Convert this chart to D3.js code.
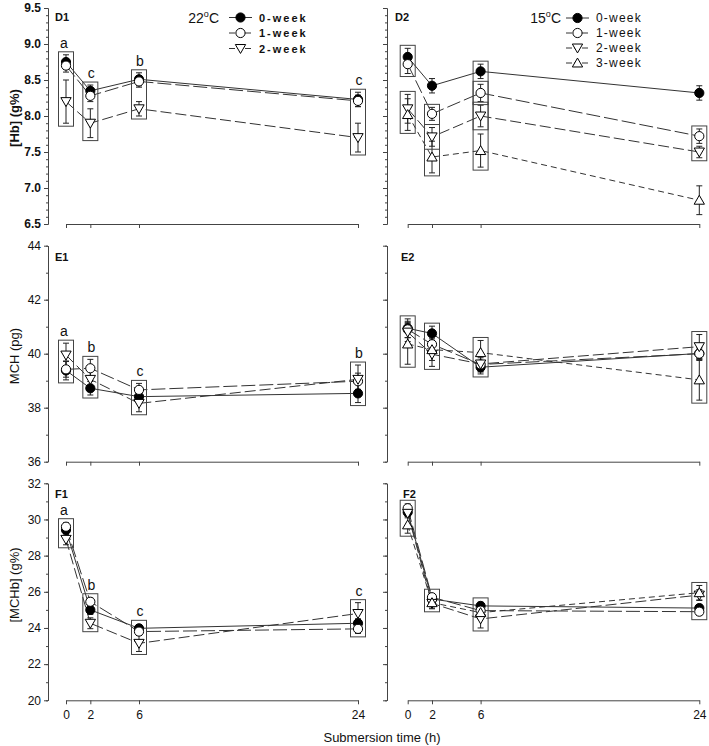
<!DOCTYPE html>
<html><head><meta charset="utf-8">
<script src="https://cdn.jsdelivr.net/npm/d3@7"></script>
<style>
body{margin:0;background:#fff}
svg{display:block}
text{font-family:"Liberation Sans",Arial,Helvetica,sans-serif;fill:#111}
</style>
</head><body>
<svg id="chart" width="709" height="746"></svg>
<script>
// ---------------- data ----------------
const times = [0, 2, 6, 24];
const timeTickLabels = ["0", "2", "6", "24"];
const seriesNames = ["0-week", "1-week", "2-week", "3-week"];
const temperatures = ["22", "15"];
const hbTicks = [6.5, 7.0, 7.5, 8.0, 8.5, 9.0, 9.5];
const mchTicks = [36, 38, 40, 42, 44];
const mchbTicks = [20, 22, 24, 26, 28, 30, 32];
const yTitles = ["[Hb] (g%)", "MCH (pg)", "[MCHb] (g%)"];
const xTitle = "Submersion time (h)";
const panelLabels = [["D1", "D2"], ["E1", "E2"], ["F1", "F2"]];

// 22 °C  (0-week, 1-week, 2-week)
const hb22 = [[8.75, 8.35, 8.51, 8.23], [8.70, 8.28, 8.48, 8.21], [8.20, 7.90, 8.10, 7.70]];
const hb22Err = [[0.10, 0.08, 0.09, 0.10], [0.09, 0.08, 0.08, 0.08], [0.30, 0.20, 0.10, 0.20]];
const mch22 = [[39.38, 38.72, 38.41, 38.53], [39.42, 39.46, 38.66, 38.98], [39.95, 39.05, 38.16, 39.05]];
const mch22Err = [[0.35, 0.25, 0.25, 0.34], [0.29, 0.33, 0.24, 0.30], [0.44, 0.40, 0.31, 0.53]];
const mchb22 = [[29.42, 25.00, 23.98, 24.26], [29.60, 25.45, 23.80, 23.95], [28.90, 24.26, 23.15, 24.80]];
const mchb22Err = [[0.20, 0.25, 0.20, 0.25], [0.22, 0.20, 0.20, 0.25], [0.30, 0.30, 0.45, 0.60]];

// 15 °C  (0-week, 1-week, 2-week, 3-week)
const hb15 = [[8.82, 8.42, 8.62, 8.32], [8.72, 8.03, 8.32, 7.72], [8.10, 7.71, 8.00, 7.50], [8.02, 7.43, 7.52, 6.83]];
const hb15Err = [[0.12, 0.10, 0.10, 0.10], [0.13, 0.09, 0.12, 0.10], [0.20, 0.13, 0.15, 0.08], [0.22, 0.22, 0.23, 0.20]];
const mch15 = [[40.94, 40.75, 39.50, 40.01], [40.90, 40.35, 39.60, 40.00], [40.80, 39.98, 39.62, 40.26], [40.36, 40.15, 40.04, 39.03]];
const mch15Err = [[0.35, 0.27, 0.25, 0.20], [0.30, 0.30, 0.25, 0.25], [0.35, 0.45, 0.30, 0.45], [0.75, 0.40, 0.45, 0.75]];
const mchb15 = [[30.40, 25.60, 25.22, 25.10], [30.62, 25.70, 24.96, 24.90], [30.34, 25.36, 24.50, 25.82], [29.70, 25.40, 24.85, 25.95]];
const mchb15Err = [[0.20, 0.20, 0.20, 0.20], [0.24, 0.20, 0.20, 0.20], [0.25, 0.30, 0.50, 0.30], [0.46, 0.30, 0.35, 0.40]];

// significance letters (22 °C panels)
const lettersHb22 = ["a", "c", "b", "c"];
const lettersMch22 = ["a", "b", "c", "b"];
const lettersMchb22 = ["a", "b", "c", "c"];

// boxed groups (series indices) at each time point
const groups22 = [[[0, 1, 2]], [[0, 1, 2]], [[0, 1, 2]], [[0, 1, 2]]];
const groupsHb15 = [[[0, 1], [2, 3]], [[1, 2], [2, 3]], [[0, 1], [1, 2], [2, 3]], [[1, 2]]];
const groups15 = [[[0, 1, 2, 3]], [[0, 1, 2, 3]], [[0, 1, 2, 3]], [[0, 1, 2, 3]]];

// ---------------- layout ----------------
const svg = d3.select("#chart");
const INK = "#222";
const cols = [
  { axisX: 48, range: [66, 358], labelX: [55, 55, 55] },
  { axisX: 387, range: [407.7, 699.3], labelX: [395, 401, 403] }
];
const rows = [
  { range: [224, 8], ticks: hbTicks, minorStep: 0.1, fmt: d3.format(".1f"), bold: true, labelY: 21, titleY: 118 },
  { range: [461.7, 245.7], ticks: mchTicks, minorStep: 1, fmt: d3.format("d"), bold: false, labelY: 261, titleY: 356 },
  { range: [700.3, 483.3], ticks: mchbTicks, minorStep: 1, fmt: d3.format("d"), bold: false, labelY: 498, titleY: 585 }
];
const dashes = [null, "14,4", "11,4", "6,4"];

const panels = [
  { row: 0, col: 0, vals: hb22, errs: hb22Err, groups: groups22, letters: lettersHb22 },
  { row: 0, col: 1, vals: hb15, errs: hb15Err, groups: groupsHb15, letters: null },
  { row: 1, col: 0, vals: mch22, errs: mch22Err, groups: groups22, letters: lettersMch22 },
  { row: 1, col: 1, vals: mch15, errs: mch15Err, groups: groups15, letters: null },
  { row: 2, col: 0, vals: mchb22, errs: mchb22Err, groups: groups22, letters: lettersMchb22 },
  { row: 2, col: 1, vals: mchb15, errs: mchb15Err, groups: groups15, letters: null }
];

function marker(sel, s, cx, cy) {
  if (s <= 1) {
    sel.append("circle").attr("cx", cx).attr("cy", cy).attr("r", 4.6)
      .attr("fill", s === 0 ? "#000" : "#fff").attr("stroke", "#000").attr("stroke-width", 1);
  } else {
    sel.append("path").attr("d", d3.symbol(d3.symbolTriangle, 46)())
      .attr("transform", `translate(${cx},${cy + (s === 2 ? -1 : 1)}) rotate(${s === 2 ? 180 : 0})`)
      .attr("fill", "#fff").attr("stroke", "#000").attr("stroke-width", 1);
  }
}

panels.forEach(p => {
  const R = rows[p.row], C = cols[p.col];
  const dom = [R.ticks[0], R.ticks[R.ticks.length - 1]];
  const x = d3.scaleLinear().domain([times[0], times[times.length - 1]]).range(C.range);
  const y = d3.scaleLinear().domain(dom).range(R.range);
  const g = svg.append("g");

  // y axis (minor then major)
  const minor = d3.range(dom[0], dom[1] + R.minorStep / 2, R.minorStep);
  g.append("g").attr("transform", `translate(${C.axisX},0)`)
    .call(d3.axisLeft(y).tickValues(minor).tickSize(2).tickSizeOuter(0).tickFormat(""))
    .call(a => a.selectAll("path,line").attr("stroke", "#444"));
  const ya = g.append("g").attr("transform", `translate(${C.axisX},0)`)
    .call(d3.axisLeft(y).tickValues(R.ticks).tickSize(4).tickSizeOuter(0)
      .tickPadding(3).tickFormat(p.col === 0 ? R.fmt : ""));
  ya.selectAll("path,line").attr("stroke", "#444");
  ya.selectAll("text").attr("font-size", 12).attr("fill", "#111")
    .attr("font-family", '"Liberation Sans",Arial,sans-serif')
    .attr("font-weight", R.bold ? "bold" : "normal");

  // x axis
  const xa = g.append("g").attr("transform", `translate(0,${R.range[0]})`)
    .call(d3.axisBottom(x).tickValues(times).tickSize(4).tickSizeOuter(0).tickPadding(6)
      .tickFormat((d, i) => p.row === 2 ? timeTickLabels[i] : ""));
  xa.selectAll("path,line").attr("stroke", "#444");
  xa.selectAll("text").attr("font-size", 12).attr("fill", "#111")
    .attr("font-family", '"Liberation Sans",Arial,sans-serif');

  // panel label
  g.append("text").attr("x", C.labelX[p.row]).attr("y", R.labelY)
    .attr("font-size", 11).attr("font-weight", "bold").text(panelLabels[p.row][p.col]);

  // lines
  const line = d3.line().x((d, i) => x(times[i])).y(d => y(d));
  p.vals.forEach((v, s) => {
    g.append("path").attr("d", line(v)).attr("fill", "none")
      .attr("stroke", "#333").attr("stroke-width", 1)
      .attr("stroke-dasharray", dashes[s]);
  });

  // error bars
  p.vals.forEach((v, s) => {
    v.forEach((val, i) => {
      const cx = x(times[i]), e = p.errs[s][i];
      const y1 = y(val + e), y2 = y(val - e);
      g.append("line").attr("x1", cx).attr("x2", cx).attr("y1", y1).attr("y2", y2)
        .attr("stroke", INK).attr("stroke-width", 1);
      [y1, y2].forEach(yy => g.append("line").attr("x1", cx - 3).attr("x2", cx + 3)
        .attr("y1", yy).attr("y2", yy).attr("stroke", INK).attr("stroke-width", 1));
    });
  });

  // markers
  p.vals.forEach((v, s) => v.forEach((val, i) => marker(g, s, x(times[i]), y(val))));

  // boxes + letters
  p.groups.forEach((grs, i) => {
    const cx = x(times[i]);
    let firstTop = Infinity;
    grs.forEach(gr => {
      let top = Infinity, bot = -Infinity;
      gr.forEach(s => {
        const val = p.vals[s][i], e = p.errs[s][i];
        top = Math.min(top, y(val + e), y(val) - 5);
        bot = Math.max(bot, y(val - e), y(val) + 5);
      });
      top -= 3; bot += 3;
      firstTop = Math.min(firstTop, top);
      g.append("rect").attr("x", cx - 7.5).attr("y", top).attr("width", 15)
        .attr("height", bot - top).attr("fill", "none")
        .attr("stroke", "#444").attr("stroke-width", 1);
    });
    if (p.letters) {
      g.append("text").attr("x", cx + (i === 0 ? -2 : 1)).attr("y", firstTop - 4)
        .attr("text-anchor", "middle").attr("font-size", 14).text(p.letters[i]);
    }
  });
});

// y titles
rows.forEach((R, r) => {
  svg.append("text").attr("transform", `translate(19,${R.titleY}) rotate(-90)`)
    .attr("text-anchor", "middle").attr("font-size", 13)
    .attr("font-weight", r === 0 ? "bold" : "normal").text(yTitles[r]);
});

// x title
svg.append("text").attr("x", 382).attr("y", 742).attr("text-anchor", "middle")
  .attr("font-size", 13).text(xTitle);

// legends
const legends = [
  { n: 3, titleX: 219, lx: [229, 252], labelX: 259, rowsY: [17.5, 33, 48.5], bold: true, ls: 2 },
  { n: 4, titleX: 561, lx: [566, 589], labelX: 596, rowsY: [18, 33, 48, 63], bold: false, ls: 1.2 }
];
legends.forEach((L, k) => {
  const lg = svg.append("g");
  const t = lg.append("text").attr("x", L.titleX).attr("y", L.rowsY[0] + 5)
    .attr("text-anchor", "end").attr("font-size", 14);
  t.append("tspan").text(temperatures[k]);
  t.append("tspan").attr("font-size", 9).attr("dy", -6).text("o");
  t.append("tspan").attr("dy", 6).text("C");
  for (let s = 0; s < L.n; s++) {
    const yy = L.rowsY[s], mid = (L.lx[0] + L.lx[1]) / 2;
    lg.append("line").attr("x1", L.lx[0]).attr("x2", L.lx[1]).attr("y1", yy).attr("y2", yy)
      .attr("stroke", "#333").attr("stroke-width", 1)
      .attr("stroke-dasharray", s === 0 ? null : "6,2");
    marker(lg, s, mid, yy);
    lg.append("text").attr("x", L.labelX).attr("y", yy + 4)
      .attr("font-size", L.bold ? 11 : 12).attr("font-weight", L.bold ? "bold" : "normal")
      .attr("letter-spacing", L.ls).text(seriesNames[s]);
  }
});
</script>
</body></html>
